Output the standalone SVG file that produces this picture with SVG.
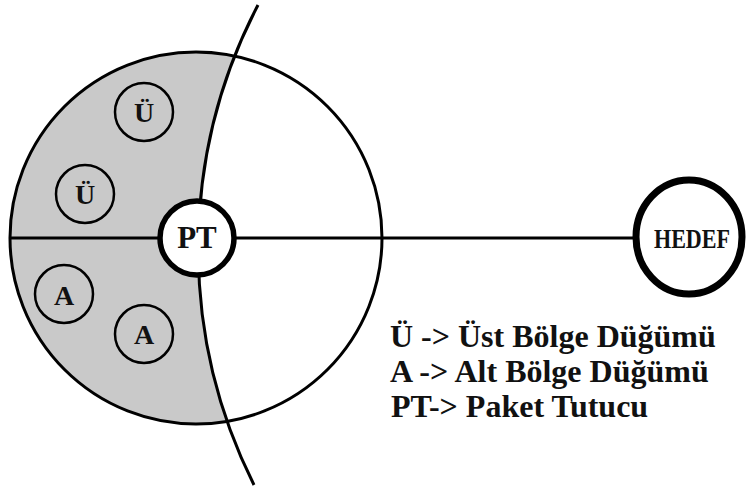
<svg xmlns="http://www.w3.org/2000/svg" width="746" height="488" viewBox="0 0 746 488">
  <style>
    .line { fill: none; stroke: #000; stroke-width: 3; }
    .node { fill: #fff; stroke: #000; }
    .small { fill: none; stroke: #000; stroke-width: 2.5; }
    .lbl { font-family: "Liberation Serif", "DejaVu Serif", "Times New Roman", serif; font-weight: bold; fill: #111; text-anchor: middle; }
    .legend { font-family: "Liberation Serif", "DejaVu Serif", "Times New Roman", serif; font-weight: bold; fill: #111; font-size: 32px; }
  </style>
  <defs>
    <!-- region to the left of the boundary arc -->
    <clipPath id="leftOfArc">
      <path d="M 258 5 A 528 528 0 0 0 254 485 L 0 485 L 0 5 Z"/>
    </clipPath>
  </defs>

  <rect x="0" y="0" width="746" height="488" fill="#fff"/>

  <!-- shaded zone of the region -->
  <circle cx="196" cy="238" r="186" fill="#c9c9c9" clip-path="url(#leftOfArc)"/>

  <g id="connectors">
    <circle class="line" cx="196" cy="238" r="186"/>
    <path class="line" d="M 258 5 A 528 528 0 0 0 254 485"/>
    <line class="line" x1="10" y1="238" x2="636" y2="238"/>
  </g>

  <g id="node-u1">
    <circle class="small" cx="144" cy="112" r="29"/>
    <text class="lbl" x="144" y="122" font-size="28">Ü</text>
  </g>
  <g id="node-u2">
    <circle class="small" cx="85" cy="194" r="29"/>
    <text class="lbl" x="85" y="204" font-size="28">Ü</text>
  </g>
  <g id="node-a1">
    <circle class="small" cx="64" cy="294" r="29"/>
    <text class="lbl" x="64" y="305" font-size="28">A</text>
  </g>
  <g id="node-a2">
    <circle class="small" cx="144" cy="334" r="29"/>
    <text class="lbl" x="144" y="344" font-size="28">A</text>
  </g>

  <g id="node-pt">
    <circle class="node" cx="197" cy="238" r="37" stroke-width="5.5"/>
    <text class="lbl" x="197" y="248" font-size="31">PT</text>
  </g>

  <g id="node-hedef">
    <ellipse class="node" cx="689" cy="237" rx="53" ry="57" stroke-width="7"/>
    <text class="lbl" x="692" y="248" font-size="27" textLength="76" lengthAdjust="spacingAndGlyphs">HEDEF</text>
  </g>

  <g id="legend">
    <text class="legend" x="390" y="347">Ü -&gt; Üst Bölge Düğümü</text>
    <text class="legend" x="390" y="382">A -&gt; Alt Bölge Düğümü</text>
    <text class="legend" x="391" y="417">PT-&gt; Paket Tutucu</text>
  </g>
</svg>
